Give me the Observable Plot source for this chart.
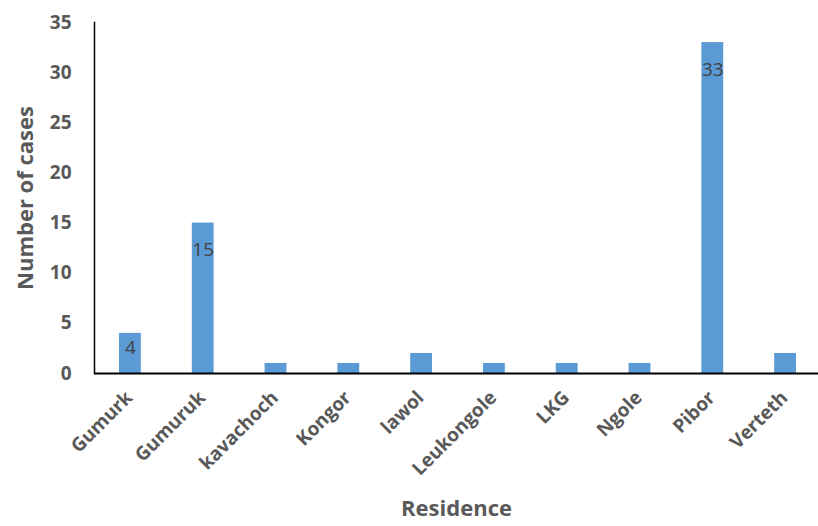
<!DOCTYPE html>
<html>
<head>
<meta charset="utf-8">
<script src="https://cdn.jsdelivr.net/npm/d3@7"></script>
<script src="https://cdn.jsdelivr.net/npm/@observablehq/plot@0.6"></script>
<style>
  body { margin: 0; background: #fff; }
  svg { display: block; }
</style>
</head>
<body>
<div id="chart"></div>
<script>
const residences = ["Gumurk", "Gumuruk", "kavachoch", "Kongor", "lawol", "Leukongole", "LKG", "Ngole", "Pibor", "Verteth"];
const cases = [4, 15, 1, 1, 2, 1, 1, 1, 33, 2];
const labelledTall = ["Gumuruk", "Pibor"];
const labelledShort = ["Gumurk"];
const yTicks = [0, 5, 10, 15, 20, 25, 30, 35];

const data = residences.map((r, i) => ({residence: r, cases: cases[i]}));
const tallLabels = data.filter(d => labelledTall.includes(d.residence));
const shortLabels = data.filter(d => labelledShort.includes(d.residence));

const font = "'Open Sans', sans-serif";
const chart = Plot.plot({
  width: 818,
  height: 526,
  marginLeft: 94,
  marginRight: 0,
  marginTop: 22,
  marginBottom: 153,
  style: {fontFamily: font, background: "#fff"},
  x: {domain: residences, range: [93.5, 821.5], round: false, paddingInner: 0.7, paddingOuter: 0.35, label: null},
  y: {domain: [0, 35], label: null},
  marks: [
    Plot.barY(data, {x: "residence", y: "cases", fill: "#5B9BD5"}),
    Plot.frame({anchor: "left", stroke: "#000", strokeWidth: 1.5}),
    Plot.ruleY([0], {stroke: "#000", strokeWidth: 2}),
    Plot.axisY({ticks: yTicks, tickSize: 0, tickPadding: 23, fontSize: 19, fontWeight: "bold", fill: "#595959", label: null}),
    Plot.axisX({tickSize: 0, tickRotate: -45, tickPadding: 21, dx: -1, fontSize: 19, fontWeight: "bold", fill: "#595959", label: null}),
    Plot.text(tallLabels, {x: "residence", y: "cases", text: d => String(d.cases),
      dy: 27, fill: "#404040", fontSize: 19}),
    Plot.text(shortLabels, {x: "residence", y: "cases", text: d => String(d.cases),
      dy: 15, fill: "#404040", fontSize: 19}),
    Plot.text(["Number of cases"], {frameAnchor: "left", textAnchor: "middle", dx: -69, rotate: -90, fontSize: 22, fontWeight: "bold", fill: "#595959"}),
    Plot.text(["Residence"], {frameAnchor: "bottom", dy: 142, fontSize: 22, fontWeight: "bold", fill: "#595959"})
  ]
});
document.getElementById("chart").append(chart);
</script>
</body>
</html>
